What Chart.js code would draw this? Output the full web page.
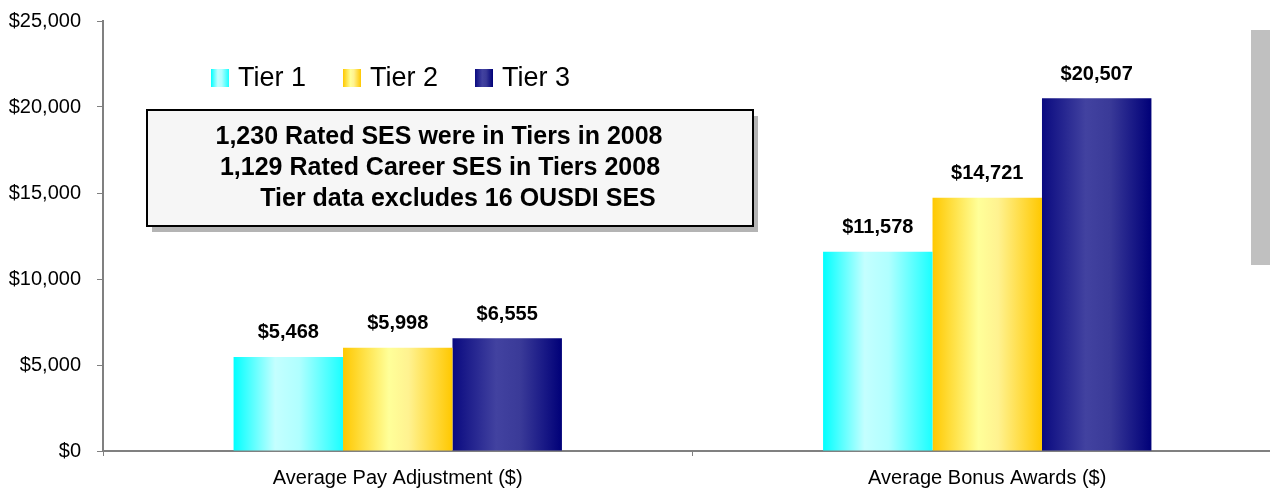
<!DOCTYPE html>
<html>
<head>
<meta charset="utf-8">
<script src="https://cdn.jsdelivr.net/npm/chart.js@4.4.1/dist/chart.umd.min.js"></script>
<style>
  html, body { margin: 0; padding: 0; background: #fff; overflow: hidden; }
  #wrap { position: relative; width: 1282px; height: 489px; }
</style>
</head>
<body>
<div id="wrap"><canvas id="c"></canvas></div>
<script>
const categories = ["Average Pay Adjustment ($)", "Average Bonus Awards ($)"];
const seriesNames = ["Tier 1", "Tier 2", "Tier 3"];
const tier1 = [5468, 11578];
const tier2 = [5998, 14721];
const tier3 = [6555, 20507];
const noteLines = [
  "1,230 Rated SES were in Tiers in 2008",
  "1,129 Rated Career SES in Tiers 2008",
  "Tier data excludes 16 OUSDI SES"
];

const FONT = "'Liberation Sans', Arial, sans-serif";

const gradStops = [
  [[0, '#00ffff'], [0.38, '#c4ffff'], [0.6, '#b0ffff'], [1, '#1affff']],
  [[0, '#ffc800'], [0.42, '#ffff99'], [0.6, '#fff290'], [1, '#ffc800']],
  [[0, '#0a0a80'], [0.4, '#4242a0'], [0.62, '#3a3a98'], [1, '#000078']]
];
function makeGrad(ctx, x0, x1, idx) {
  const g = ctx.createLinearGradient(x0, 0, x1, 0);
  gradStops[idx].forEach(s => g.addColorStop(s[0], s[1]));
  return g;
}

const fmt = v => '$' + v.toLocaleString('en-US');

const decor = {
  id: 'decor',
  beforeDatasetsDraw(chart) {
    const ctx = chart.ctx;
    chart.data.datasets.forEach((ds, di) => {
      const meta = chart.getDatasetMeta(di);
      meta.data.forEach(el => {
        const left = el.x - el.width / 2, right = el.x + el.width / 2;
        el.options = Object.assign({}, el.options, { backgroundColor: makeGrad(ctx, left, right, di) });
      });
    });
  },
  afterDatasetsDraw(chart) {
    const ctx = chart.ctx;
    ctx.save();
    ctx.fillStyle = '#000';
    ctx.font = "bold 20px " + FONT;
    ctx.textAlign = 'center';
    ctx.textBaseline = 'middle';
    chart.data.datasets.forEach((ds, di) => {
      const meta = chart.getDatasetMeta(di);
      meta.data.forEach((el, i) => {
        ctx.fillText(fmt(ds.data[i]), el.x, el.y - 24);
      });
    });
    ctx.restore();
  },
  afterDraw(chart) {
    const ctx = chart.ctx;
    ctx.save();
    // legend
    const legX = [211, 343, 475];
    ctx.font = "27px " + FONT;
    ctx.textBaseline = 'middle';
    ctx.textAlign = 'left';
    chart.data.datasets.forEach((ds, di) => {
      const x = legX[di];
      ctx.fillStyle = makeGrad(ctx, x, x + 18, di);
      ctx.fillRect(x, 69, 18, 18);
      ctx.fillStyle = '#000';
      ctx.fillText(ds.label, x + 27, 79);
    });
    // note box
    ctx.fillStyle = '#b4b4b4';
    ctx.fillRect(152, 116, 606, 116);
    ctx.fillStyle = '#f6f6f6';
    ctx.fillRect(147, 110, 606, 116);
    ctx.strokeStyle = '#000';
    ctx.lineWidth = 2;
    ctx.strokeRect(147, 110, 606, 116);
    ctx.fillStyle = '#000';
    ctx.font = "bold 25px " + FONT;
    ctx.textAlign = 'center';
    const cx = [439, 440, 458];
    noteLines.forEach((t, i) => ctx.fillText(t, cx[i], 137 + i * 31));
    // gray strip at right edge
    ctx.fillStyle = '#c0c0c0';
    ctx.fillRect(1251, 30, 30, 235);
    ctx.restore();
  }
};

new Chart(document.getElementById('c'), {
  type: 'bar',
  data: {
    labels: categories,
    datasets: [
      { label: seriesNames[0], data: tier1, backgroundColor: '#80ffff' },
      { label: seriesNames[1], data: tier2, backgroundColor: '#ffe066' },
      { label: seriesNames[2], data: tier3, backgroundColor: '#202090' }
    ]
  },
  options: {
    responsive: true,
    maintainAspectRatio: false,
    animation: false,
    events: [],
    datasets: { bar: { categoryPercentage: 0.557, barPercentage: 1.0, borderWidth: 0 } },
    layout: { autoPadding: false, padding: { top: 21, right: 0, bottom: 0, left: 0 } },
    plugins: { legend: { display: false }, tooltip: { enabled: false } },
    scales: {
      x: {
        grid: { drawOnChartArea: false, tickLength: 5, color: '#808080', offset: true },
        border: { color: '#808080', width: 2 },
        ticks: { color: '#000', font: { family: FONT, size: 20 }, padding: 10 },
        afterFit: s => { s.height = 38; }
      },
      y: {
        min: 0, max: 25000,
        grid: { drawOnChartArea: false, tickLength: 6, color: '#808080' },
        border: { color: '#808080', width: 2 },
        ticks: { stepSize: 5000, color: '#000', font: { family: FONT, size: 20 }, padding: 16, callback: v => fmt(v) },
        afterFit: s => { s.width = 103; s.paddingTop = 0; s.paddingBottom = 0; }
      }
    }
  },
  plugins: [decor]
});
</script>
</body>
</html>
